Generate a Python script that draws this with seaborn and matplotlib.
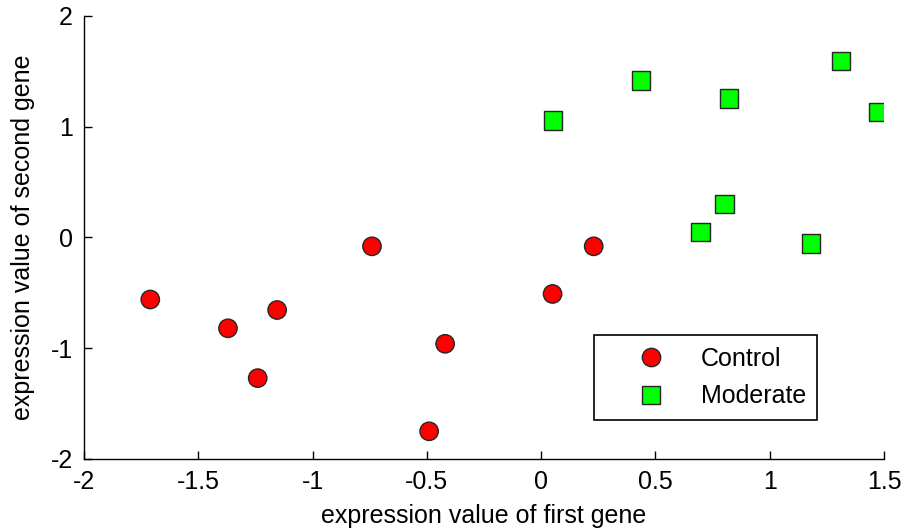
import matplotlib
matplotlib.use("Agg")
import matplotlib.pyplot as plt
import seaborn as sns
import pandas as pd

# group values
control_x = [-1.71, -1.37, -1.24, -1.155, -0.74, -0.49, -0.42, 0.05, 0.23]
control_y = [-0.56, -0.82, -1.27, -0.655, -0.08, -1.75, -0.96, -0.51, -0.08]
moderate_x = [0.053, 0.437, 0.822, 1.313, 1.473, 0.803, 0.697, 1.18]
moderate_y = [1.055, 1.416, 1.253, 1.594, 1.133, 0.302, 0.047, -0.056]
groups = ["Control", "Moderate"]

x_ticks = [-2, -1.5, -1, -0.5, 0, 0.5, 1, 1.5]
x_tick_labels = ["-2", "-1.5", "-1", "-0.5", "0", "0.5", "1", "1.5"]
y_ticks = [-2, -1, 0, 1, 2]
y_tick_labels = ["-2", "-1", "0", "1", "2"]

df = pd.DataFrame({
    "x": control_x + moderate_x,
    "y": control_y + moderate_y,
    "group": [groups[0]] * len(control_x) + [groups[1]] * len(moderate_x),
})

sns.set_style("ticks")
plt.rcParams["font.family"] = ["Liberation Sans", "DejaVu Sans"]
plt.rcParams["text.color"] = "black"
plt.rcParams["axes.labelcolor"] = "black"

fig = plt.figure(figsize=(9.05, 5.31), dpi=100)
ax = fig.add_axes([0.0928, 0.1356, 0.884, 0.8344])

sns.scatterplot(
    data=df, x="x", y="y", hue="group", style="group",
    hue_order=groups, style_order=groups,
    palette={"Control": "#ff0000", "Moderate": "#00ff00"},
    markers={"Control": "o", "Moderate": "s"},
    s=175, edgecolor="0.15", linewidth=1.0, ax=ax, zorder=3,
)

ax.set_xlim(-2, 1.5)
ax.set_ylim(-2, 2)
ax.set_xticks(x_ticks)
ax.set_xticklabels(x_tick_labels)
ax.set_yticks(y_ticks)
ax.set_yticklabels(y_tick_labels)
ax.tick_params(direction="in", length=6, width=1, labelsize=18, colors="black", pad=8)
ax.set_xlabel("expression value of first gene", fontsize=18, labelpad=7)
ax.set_ylabel("expression value of second gene", fontsize=18, labelpad=11)
sns.despine(ax=ax)
for side in ["left", "bottom"]:
    ax.spines[side].set_linewidth(1.0)
    ax.spines[side].set_color("black")

leg = ax.legend(
    loc="lower left", bbox_to_anchor=(0.638, 0.089), borderaxespad=0,
    fontsize=18, frameon=True, fancybox=False, edgecolor="black",
    borderpad=0.45, labelspacing=0.55, handlelength=3.6, handletextpad=0.2,
)
leg.get_frame().set_linewidth(1.2)
leg.get_frame().set_alpha(1)

fig.savefig("out.png", dpi=100)
